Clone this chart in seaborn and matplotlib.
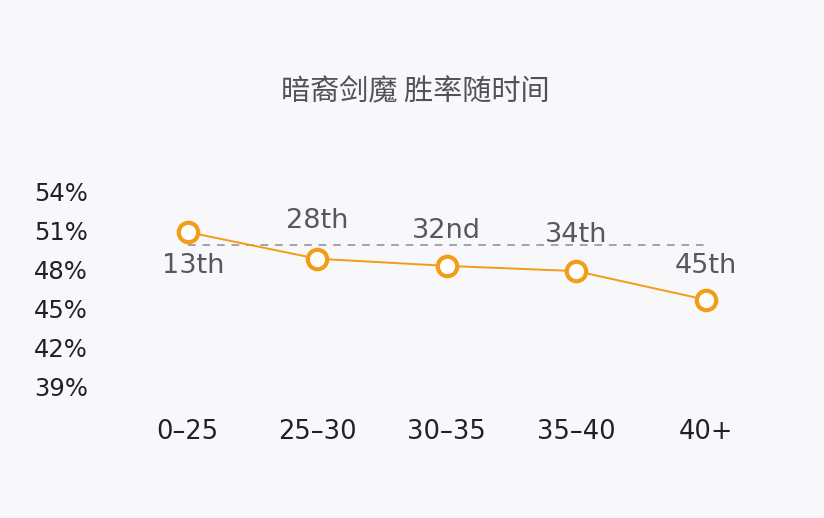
import numpy as np
import pandas as pd
import matplotlib
matplotlib.use('Agg')
import matplotlib.pyplot as plt
import seaborn as sns

# data
time_bins = ['0–25', '25–30', '30–35', '35–40', '40+']
win_rate = [50.9, 48.85, 48.3, 47.9, 45.7]
rank_labels = ['13th', '28th', '32nd', '34th', '45th']
label_offset = [-2.4, 3.1, 2.9, 3.0, 2.85]
avg_line = 49.9
y_ticks = [54, 51, 48, 45, 42, 39]
title = '暗裔剑魔 胜率随时间'

bg = '#f8f7fa'
orange = '#f29d17'

sns.set_theme(style='white')
plt.rcParams['font.family'] = ['DejaVu Sans', 'Noto Sans CJK SC']

df = pd.DataFrame({'bin': time_bins, 'rate': win_rate})

fig = plt.figure(figsize=(8.24, 5.18), dpi=100, facecolor=bg)
ax = fig.add_axes([0.149, 0.228, 0.786, 0.427])
ax.set_facecolor(bg)

# average line
ax.plot([0, 4], [avg_line, avg_line], ls=(0, (5, 4.5)), color='#8e8a92', lw=1.1, zorder=1)

sns.lineplot(data=df, x='bin', y='rate', ax=ax, color=orange, lw=1.4, marker='o',
             markersize=14, markerfacecolor='white', markeredgecolor=orange,
             markeredgewidth=3, zorder=3)

for i, (v, lab) in enumerate(zip(win_rate, rank_labels)):
    ax.text(i + (0.04 if i == 0 else 0), v + label_offset[i], lab, ha='center',
            va='center_baseline', fontsize=19.5, color='#5a5560', zorder=2)

ax.set_xlim(-0.5, 4.5)
ax.set_ylim(38, 55)
ax.set_yticks(y_ticks)
ax.set_yticklabels([f'{t}%' for t in y_ticks])
ax.tick_params(axis='y', length=0, pad=25, labelsize=17.5, labelcolor='#231f27')
ax.tick_params(axis='x', length=0, pad=14, labelsize=18.5, labelcolor='#231f27')
ax.set_xlabel('')
ax.set_ylabel('')
sns.despine(ax=ax, left=True, bottom=True)
ax.grid(False)

fig.text(0.504, 0.822, title, ha='center', va='center', fontsize=21,
         color='#55505a', family=['Noto Sans CJK SC', 'DejaVu Sans'])

fig.savefig('out.png', dpi=100, facecolor=bg)
